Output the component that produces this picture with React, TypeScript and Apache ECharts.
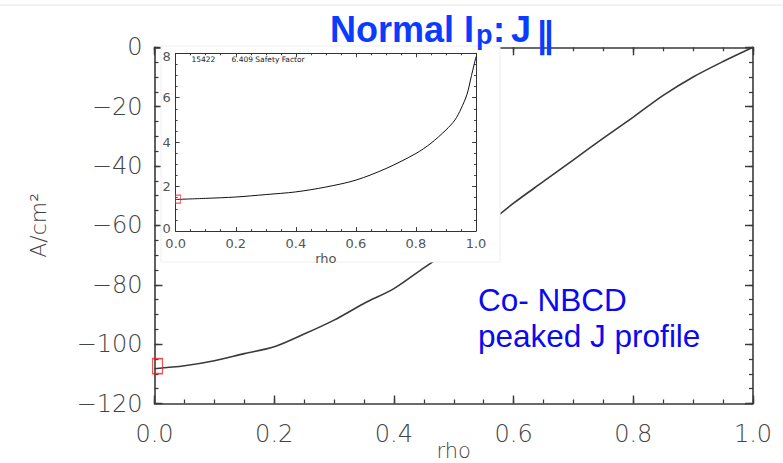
import React, { useEffect, useRef } from "react";
import * as echarts from "echarts";

// Main profile: J_parallel (A/cm^2) vs rho
const rhoJ = [0, 0.05, 0.1, 0.15, 0.2, 0.25, 0.3, 0.35, 0.4, 0.45, 0.5, 0.55, 0.6, 0.65, 0.7, 0.75, 0.8, 0.85, 0.9, 0.95, 1.0];
const jPar = [-108.3, -107.3, -105.6, -103.2, -100.9, -96.6, -91.9, -86.3, -81.3, -74.3, -67.5, -60.5, -52.5, -45.2, -37.9, -30.6, -23.5, -16.2, -10.0, -4.8, 0];

// Inset: safety factor q vs rho
const rhoQ = [0, 0.1, 0.2, 0.3, 0.4, 0.5, 0.6, 0.7, 0.8, 0.85, 0.9, 0.93, 0.95, 0.97, 0.985, 1.0];
const qVals = [1.42, 1.47, 1.53, 1.64, 1.76, 1.98, 2.29, 2.81, 3.49, 3.95, 4.55, 5.0, 5.5, 6.15, 7.0, 7.85];

// Red markers
const mainMarker = [0.005, -107.4];
const insetMarker = [0.008, 1.44];

// Axis ranges / tick steps
const mainX = { min: 0, max: 1, major: 0.2, minor: 0.05 };
const mainY = { min: -120, max: 0, major: 20, minor: 5 };
const insetX = { min: 0, max: 1, major: 0.2, minor: 0.05 };
const insetY = { min: 0, max: 8, major: 2, minor: 0.5 };

const AXIS_FONT = "DejaVu Sans";
const SANS = "Liberation Sans, Arial, Helvetica, sans-serif";
const BLUE_T = "#0a3cff";
const BLUE_A = "#0a0af0";

export default function App() {
  const ref = useRef<HTMLDivElement>(null);
  useEffect(() => {
    if (!ref.current) return;
    const chart = echarts.init(ref.current, undefined, { renderer: "svg" });
    const fmtX = (v: number) => v.toFixed(1);
    const fmtY = (v: number) => String(v).replace("-", "\u2212");
    const fmtInsetY = (v: number) =>
      v === insetY.min ? `{lo|${v}}` : v === insetY.max ? `{hi|${v}}` : `{n|${v}}`;

    const mkAxis = (
      grid: number, pos: string, rng: any, step: number, len: number,
      color: string, lw: number, showLine: boolean, z: number, extra: any = {}
    ) => ({
      gridIndex: grid, type: "value", position: pos, min: rng.min, max: rng.max, interval: step, z,
      axisLine: { show: showLine, onZero: false, lineStyle: { color, width: lw } },
      axisTick: { show: true, inside: true, length: len, lineStyle: { color, width: lw * 0.9 } },
      splitLine: { show: false },
      axisLabel: { show: false },
      nameMoveOverlap: false,
      ...extra,
    });

    const MC = "#3a3a3a";
    const IC = "#333";
    const insetLbl = { fontFamily: AXIS_FONT, fontSize: 13, color: "#555", lineHeight: 11 };
    const xAxis = [
      // data axes
      mkAxis(0, "bottom", mainX, mainX.major, 8, MC, 1.6, true, 0, {
        axisLabel: { formatter: fmtX, margin: 18, fontFamily: AXIS_FONT, fontSize: 24, fontWeight: 200, color: "#444" },
        name: "rho", nameLocation: "middle", nameGap: 38,
        nameTextStyle: { fontFamily: AXIS_FONT, fontSize: 21, fontWeight: 200, color: "#444", verticalAlign: "top", lineHeight: 18 },
      }),
      mkAxis(0, "top", mainX, mainX.major, 8, MC, 1.6, true, 0),
      mkAxis(1, "bottom", insetX, insetX.major, 4, IC, 1, true, 10, {
        axisLabel: { formatter: fmtX, margin: 7, ...insetLbl },
        name: "rho", nameLocation: "middle", nameGap: 21,
        nameTextStyle: { ...insetLbl, lineHeight: 12 },
      }),
      mkAxis(1, "top", insetX, insetX.major, 4, IC, 1, true, 10),
      // minor tick axes
      mkAxis(0, "bottom", mainX, mainX.minor, 4, MC, 1.4, false, 0),
      mkAxis(0, "top", mainX, mainX.minor, 4, MC, 1.4, false, 0),
      mkAxis(1, "bottom", insetX, insetX.minor, 2, IC, 1, false, 10),
      mkAxis(1, "top", insetX, insetX.minor, 2, IC, 1, false, 10),
    ];
    const yAxis = [
      mkAxis(0, "left", mainY, mainY.major, 8, MC, 1.6, true, 0, {
        axisLabel: { formatter: fmtY, margin: 12, fontFamily: AXIS_FONT, fontSize: 24, fontWeight: 200, color: "#444" },
        name: "A/cm\u00B2", nameLocation: "middle", nameGap: 105, nameRotate: 90,
        nameTextStyle: { fontFamily: AXIS_FONT, fontSize: 22, fontWeight: 200, color: "#444" },
      }),
      mkAxis(0, "right", mainY, mainY.major, 8, MC, 1.6, true, 0),
      mkAxis(1, "left", insetY, insetY.major, 4, IC, 1, true, 10, {
        axisLabel: {
          formatter: fmtInsetY, margin: 5, ...insetLbl,
          rich: {
            n: { ...insetLbl },
            lo: { ...insetLbl, padding: [0, 0, 6, 0] },
            hi: { ...insetLbl, padding: [6, 0, 0, 0] },
          },
        },
      }),
      mkAxis(1, "right", insetY, insetY.major, 4, IC, 1, true, 10),
      mkAxis(0, "left", mainY, mainY.minor, 4, MC, 1.4, false, 0),
      mkAxis(0, "right", mainY, mainY.minor, 4, MC, 1.4, false, 0),
      mkAxis(1, "left", insetY, insetY.minor, 2, IC, 1, false, 10),
      mkAxis(1, "right", insetY, insetY.minor, 2, IC, 1, false, 10),
    ];

    const option: any = {
      animation: false,
      backgroundColor: "#fff",
      grid: [
        { left: 154.5, top: 47.3, width: 598.5, height: 356.2, containLabel: false, outerBoundsMode: "none" },
        { left: 175.7, top: 53.3, width: 300.3, height: 177.7, containLabel: false, outerBoundsMode: "none", z: 10 },
      ],
      xAxis,
      yAxis,
      graphic: [
        { type: "line", z: 1, shape: { x1: 0, y1: 5, x2: 783, y2: 5 }, style: { stroke: "#e6e6e6", lineWidth: 1 } },
        { type: "rect", z: 3, shape: { x: 161, y: 46, width: 339, height: 216 }, style: { fill: "#fff", stroke: "#eeeeee", lineWidth: 1 } },
        { type: "text", z: 12, x: 191.5, y: 59.5, style: { text: "15422", fontFamily: AXIS_FONT, fontSize: 7.5, fill: "#222", align: "left", verticalAlign: "middle" } },
        { type: "text", z: 12, x: 231.5, y: 59.5, style: { text: "6.409 Safety Factor", fontFamily: AXIS_FONT, fontSize: 7.5, fill: "#222", align: "left", verticalAlign: "middle" } },
        // Title pieces
        { type: "text", z: 20, x: 330, y: 29.2, style: { text: "Normal I", fontFamily: SANS, fontWeight: "bold", fontSize: 36, fill: BLUE_T, align: "left", verticalAlign: "middle" } },
        { type: "text", z: 20, x: 476, y: 35, style: { text: "p", fontFamily: SANS, fontWeight: "bold", fontSize: 27, fill: BLUE_T, align: "left", verticalAlign: "middle" } },
        { type: "text", z: 20, x: 493, y: 29.2, style: { text: ":", fontFamily: SANS, fontWeight: "bold", fontSize: 36, fill: BLUE_T, align: "left", verticalAlign: "middle" } },
        { type: "text", z: 20, x: 511, y: 29.2, style: { text: "J", fontFamily: SANS, fontWeight: "bold", fontSize: 36, fill: BLUE_T, align: "left", verticalAlign: "middle" } },
        { type: "text", z: 20, x: 545, y: 35, style: { text: "\u2225", fontFamily: "DejaVu Sans", fontWeight: "bold", fontSize: 36, fill: BLUE_T, align: "center", verticalAlign: "middle" } },
        // Annotation
        { type: "text", z: 20, x: 478, y: 300, style: { text: "Co- NBCD", fontFamily: SANS, fontSize: 31.5, fill: BLUE_A, align: "left", verticalAlign: "middle" } },
        { type: "text", z: 20, x: 478, y: 336, style: { text: "peaked J profile", fontFamily: SANS, fontSize: 31.5, fill: BLUE_A, align: "left", verticalAlign: "middle" } },
      ],
      series: [
        {
          type: "line", xAxisIndex: 0, yAxisIndex: 0, z: 2, symbol: "none", smooth: 0.3,
          lineStyle: { color: "#3a3a3a", width: 1.6 },
          data: rhoJ.map((r, i) => [r, jPar[i]]),
        },
        {
          type: "scatter", xAxisIndex: 0, yAxisIndex: 0, z: 2, symbol: "rect", symbolSize: [10, 15],
          itemStyle: { color: "rgba(0,0,0,0)", borderColor: "#ff2020", borderWidth: 1.3 },
          data: [mainMarker],
        },
        {
          type: "line", xAxisIndex: 2, yAxisIndex: 2, z: 11, symbol: "none", smooth: 0.3,
          lineStyle: { color: "#111", width: 1 },
          data: rhoQ.map((r, i) => [r, qVals[i]]),
        },
        {
          type: "scatter", xAxisIndex: 2, yAxisIndex: 2, z: 12, symbol: "rect", symbolSize: [5, 8],
          itemStyle: { color: "rgba(0,0,0,0)", borderColor: "#ff2020", borderWidth: 1 },
          data: [insetMarker],
        },
      ],
    };
    chart.setOption(option);
    return () => chart.dispose();
  }, []);
  return <div ref={ref} style={{ position: "fixed", left: 0, top: 0, width: 783, height: 463 }} />;
}
